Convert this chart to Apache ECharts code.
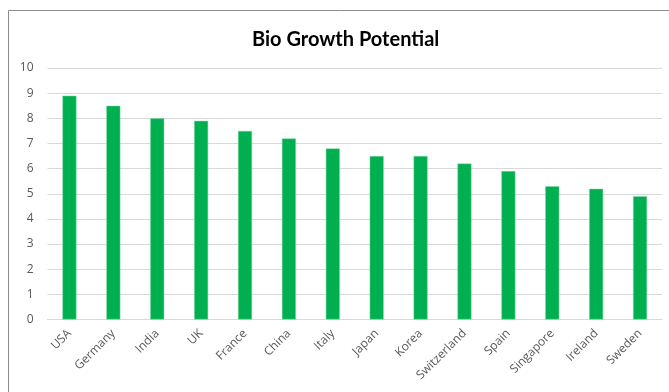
<!DOCTYPE html>
<html>
<head>
<meta charset="utf-8">
<script src="https://cdn.jsdelivr.net/npm/echarts@6/dist/echarts.min.js"></script>
<style>
  html, body { margin: 0; padding: 0; background: #fff; }
  #chart { width: 669px; height: 392px; }
</style>
</head>
<body>
<div id="chart"></div>
<script>
// Countries along the x axis
const countries = ['USA', 'Germany', 'India', 'UK', 'France', 'China', 'Italy',
  'Japan', 'Korea', 'Switzerland', 'Spain', 'Singapore', 'Ireland', 'Sweden'];
// Growth potential score per country
const potential = [8.9, 8.5, 8.0, 7.9, 7.5, 7.2, 6.8, 6.5, 6.5, 6.2, 5.9, 5.3, 5.2, 4.9];
// Value axis range
const yMin = 0, yMax = 10, yStep = 1;

const chart = echarts.init(document.getElementById('chart'), null, { renderer: 'canvas' });
const labelFont = "'Open Sans', 'Liberation Sans', sans-serif";

chart.setOption({
  animation: false,
  backgroundColor: '#ffffff',
  title: {
    text: 'Bio Growth Potential',
    left: 247,
    top: 25,
    textStyle: { fontFamily: "Lato, 'Liberation Sans', sans-serif", fontWeight: 'bold', fontSize: 20, color: '#000' }
  },
  graphic: [{
    type: 'rect',
    shape: { x: 8.5, y: 10.5, width: 700, height: 420 },
    style: { fill: 'none', stroke: '#8c8c8c', lineWidth: 1 },
    silent: true
  }],
  grid: { left: 47.5, right: 7, top: 68, bottom: 72.5, containLabel: false },
  xAxis: {
    type: 'category',
    data: countries,
    axisLine: { show: true, lineStyle: { color: '#d9d9d9', width: 1 } },
    axisTick: { show: false },
    axisLabel: {
      rotate: 45,
      interval: 0,
      margin: 12,
      color: '#595959',
      fontSize: 12,
      fontFamily: labelFont
    }
  },
  yAxis: {
    type: 'value',
    min: yMin,
    max: yMax,
    interval: yStep,
    axisLine: { show: false },
    axisTick: { show: false },
    splitLine: { lineStyle: { color: '#d9d9d9', width: 1 } },
    axisLabel: { color: '#595959', fontSize: 12, fontFamily: labelFont, margin: 14 }
  },
  series: [{
    type: 'bar',
    data: potential,
    barWidth: 14,
    itemStyle: { color: '#00b050', borderColor: '#7fd8a7', borderWidth: 0.5 }
  }]
});
</script>
</body>
</html>
